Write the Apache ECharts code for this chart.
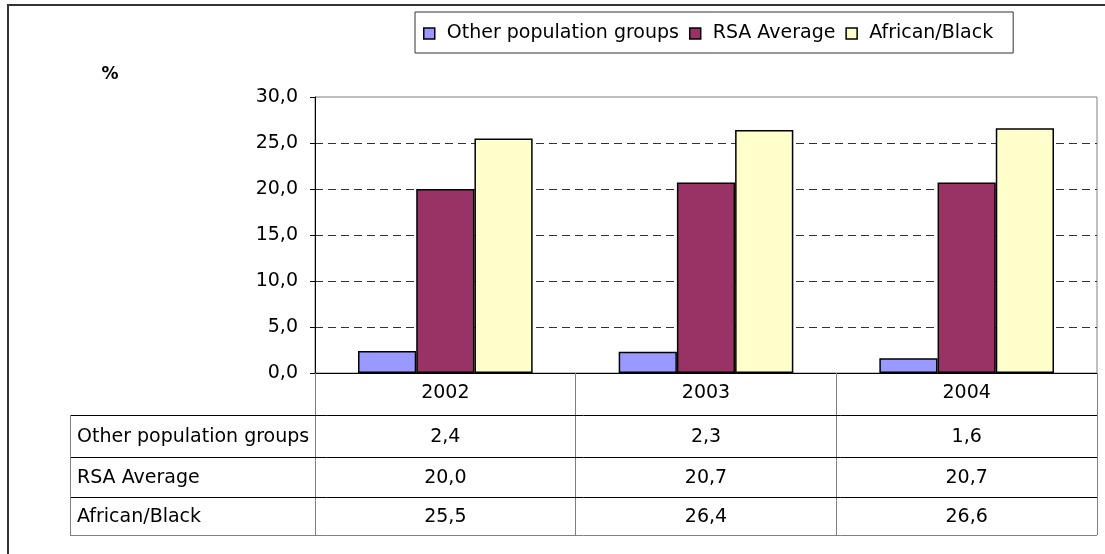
<!DOCTYPE html>
<html>
<head>
<meta charset="utf-8">
<script src="https://cdn.jsdelivr.net/npm/echarts@6/dist/echarts.min.js"></script>
<style>
html,body{margin:0;padding:0;background:#fff;}
#c{width:1105px;height:554px;}
</style>
</head>
<body>
<div id="c"></div>
<script>
const categories = ['2002', '2003', '2004'];
const seriesNames = ['Other population groups', 'RSA Average', 'African/Black'];
const otherGroups = [2.4, 2.3, 1.6];
const rsaAverage = [20.0, 20.7, 20.7];
const africanBlack = [25.5, 26.4, 26.6];
const seriesColors = ['#9999FF', '#993366', '#FFFFCC'];
const yMin = 0, yMax = 30, yInterval = 5;
const unitLabel = '%';

const FONT = 'DejaVu Sans';
const FS = 19;
const fmt = v => Number(v).toFixed(1).replace('.', ',');
const allValues = [otherGroups, rsaAverage, africanBlack];

const GRID = {left: 315, right: 8, top: 97, bottom: 181};
const TABLE_LEFT = 70, TABLE_RIGHT = 1097;
const ROW_LINES = [415, 457, 497, 535];

const chart = echarts.init(document.getElementById('c'));
chart.setOption({
  animation: false,
  textStyle: {fontFamily: FONT},
  legend: {
    left: 415, top: 12,
    data: seriesNames,
    borderColor: '#333', borderWidth: 1,
    padding: [12, 20, 10, 8],
    itemWidth: 11, itemHeight: 11, itemGap: 10,
    icon: 'rect',
    itemStyle: {borderColor: '#000', borderWidth: 1.5},
    textStyle: {fontFamily: FONT, fontSize: FS, color: '#000', padding: [0, 0, 0, 7]}
  },
  grid: Object.assign({show: true, borderColor: '#808080', borderWidth: 1}, GRID),
  xAxis: {
    type: 'category',
    data: categories,
    axisLine: {lineStyle: {color: '#000', width: 1}},
    axisTick: {show: true, interval: 0, length: 162, lineStyle: {color: '#808080', width: 1}},
    axisLabel: {margin: 11, fontFamily: FONT, fontSize: FS, color: '#000', interval: 0},
    splitLine: {show: false}
  },
  yAxis: {
    type: 'value',
    min: yMin, max: yMax, interval: yInterval,
    axisLine: {show: true, lineStyle: {color: '#000', width: 1}},
    axisTick: {show: true, length: 5, lineStyle: {color: '#000'}},
    axisLabel: {margin: 17, fontFamily: FONT, fontSize: FS, color: '#000', formatter: fmt},
    splitLine: {show: true, showMaxLine: false, lineStyle: {type: [8, 5], color: '#333', width: 1}}
  },
  series: seriesNames.map((name, i) => ({
    name: name,
    type: 'bar',
    data: allValues[i],
    barGap: '0%',
    barCategoryGap: '33%',
    itemStyle: {color: seriesColors[i], borderColor: '#000', borderWidth: 1.5}
  }))
});

// Data table under the plot
const graphics = [];
// outer chart border (clipped at right/bottom as in reference)
graphics.push({type: 'rect', shape: {x: 8, y: 5, width: 1200, height: 600},
  style: {fill: null, stroke: '#333', lineWidth: 2}, z: 0, silent: true});
// horizontal table lines
ROW_LINES.forEach((y, i) => {
  graphics.push({type: 'line', shape: {x1: TABLE_LEFT, y1: y + 0.5, x2: TABLE_RIGHT, y2: y + 0.5},
    style: {stroke: i === ROW_LINES.length - 1 ? '#808080' : '#000', lineWidth: 1}, z: 10});
});
// left border of label column
graphics.push({type: 'line', shape: {x1: TABLE_LEFT + 0.5, y1: ROW_LINES[0], x2: TABLE_LEFT + 0.5, y2: ROW_LINES[ROW_LINES.length - 1] + 1},
  style: {stroke: '#808080', lineWidth: 1}, z: 10});
// row labels and values
seriesNames.forEach((name, r) => {
  const yc = (ROW_LINES[r] + ROW_LINES[r + 1]) / 2 + 1;
  graphics.push({type: 'text', x: 77, y: yc,
    style: {text: name, fontFamily: FONT, fontSize: FS, fill: '#000', verticalAlign: 'middle', align: 'left'}, z: 11});
  categories.forEach((cat, c) => {
    const px = chart.convertToPixel({xAxisIndex: 0}, cat);
    graphics.push({type: 'text', x: px, y: yc,
      style: {text: fmt(allValues[r][c]), fontFamily: FONT, fontSize: FS, fill: '#000', verticalAlign: 'middle', align: 'center'}, z: 11});
  });
});
// unit label
graphics.push({type: 'text', x: 110, y: 75,
  style: {text: unitLabel, fontFamily: FONT, fontSize: 17, fontWeight: 'bold', fill: '#000', verticalAlign: 'middle', align: 'center'}, z: 11});

chart.setOption({graphic: graphics});
</script>
</body>
</html>
